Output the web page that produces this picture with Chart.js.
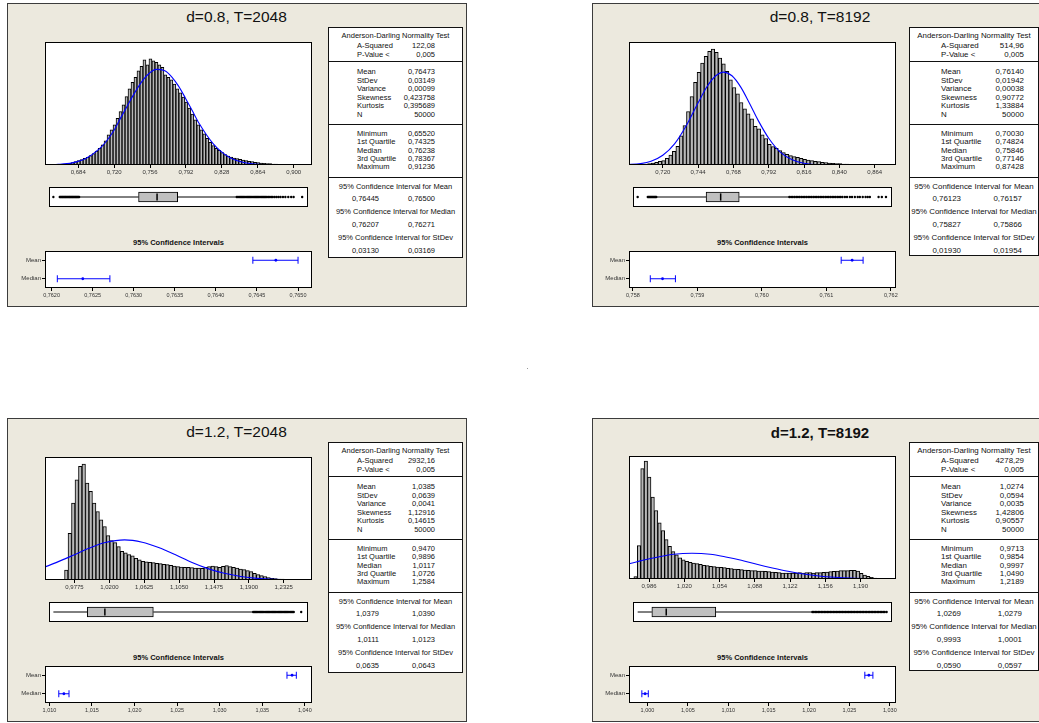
<!DOCTYPE html>
<html><head><meta charset="utf-8">
<script src="https://cdn.jsdelivr.net/npm/chart.js@4.4.1/dist/chart.umd.min.js"></script>
<style>
html,body{margin:0;padding:0;background:#fff;}
body{width:1039px;height:723px;position:relative;overflow:hidden;font-family:'Liberation Sans',Arial,sans-serif;}
.panel{position:absolute;background:#ECE9DE;border:1px solid #3c3c3c;box-sizing:border-box;}
.title{position:absolute;font-size:15.5px;color:#111;white-space:nowrap;transform:translate(-50%,-50%);}
.ctitle{position:absolute;font-size:7.5px;font-weight:bold;color:#111;white-space:nowrap;transform:translate(-50%,-50%);}
.stats{position:absolute;background:#fff;border:1px solid #111;box-sizing:border-box;font-size:7.5px;color:#111;}
.stats div{position:absolute;height:10px;line-height:10px;white-space:nowrap;}
.stats div.sep{height:0;border-top:1px solid #111;left:0;right:0;}
canvas{position:absolute;}
</style></head><body>
<script>
// ---------------- DATA ----------------
const titles = ['d=0.8, T=2048','d=0.8, T=8192','d=1.2, T=2048','d=1.2, T=8192'];
const ciTitle = '95% Confidence Intervals';
const ciRows = ['Mean','Median'];

// histogram bin centres and heights (relative counts)
const binsP1 = [0.6574,0.6604,0.6634,0.6664,0.6694,0.6724,0.6754,0.6784,0.6814,0.6844,0.6874,0.6904,0.6934,0.6964,0.6994,0.7024,0.7054,0.7084,0.7114,0.7144,0.7174,0.7204,0.7234,0.7264,0.7294,0.7324,0.7354,0.7384,0.7414,0.7444,0.7474,0.7504,0.7534,0.7564,0.7594,0.7624,0.7654,0.7684,0.7714,0.7744,0.7774,0.7804,0.7834,0.7864,0.7894,0.7924,0.7954,0.7984,0.8014,0.8044,0.8074,0.8104,0.8134,0.8164,0.8194,0.8224,0.8254,0.8284,0.8314,0.8344,0.8374,0.8404,0.8434,0.8464,0.8494,0.8524,0.8554,0.8584,0.8614,0.8644,0.8674,0.8704,0.8734,0.8764,0.8794,0.8824,0.8854,0.8884,0.8914,0.8944,0.8974,0.9004,0.9034,0.9064,0.9094,0.9124,0.9154];
const countsP1 = [0,0.5,1,1,2,3,5,7,10,13,16,20,23,28,34,42,50,60,72,90,105,120,140,160,180,205,228,247,262,282,295,315,300,318,312,307,300,292,270,262,255,242,228,216,203,188,170,152,135,120,105,93,80,68,58,50,44,37,31,27,24,21,19,17,15,13,11,10,8,7,6,5,4,4,3,3,2,2,2,1,1,1,1,1,0.5,0.5,0.5];
const binsP2 = [0.7013,0.7037,0.7061,0.7085,0.7109,0.7133,0.7157,0.7181,0.7205,0.7229,0.7253,0.7277,0.7301,0.7325,0.7349,0.7373,0.7397,0.7421,0.7445,0.7469,0.7493,0.7517,0.7541,0.7565,0.7589,0.7613,0.7637,0.7661,0.7685,0.7709,0.7733,0.7757,0.7781,0.7805,0.7829,0.7853,0.7877,0.7901,0.7925,0.7949,0.7973,0.7997,0.8021,0.8045,0.8069,0.8093,0.8117,0.8141,0.8165,0.8189,0.8213,0.8237,0.8261,0.8285,0.8309,0.8333,0.8357,0.8381,0.8405,0.8429,0.8453,0.8477,0.8501,0.8525,0.8549,0.8573,0.8597,0.8621,0.8645,0.8669,0.8693,0.8717,0.8741];
const countsP2 = [0.5,1,2,3,4,6,8,11,13,20,30,41,56,87,118,160,205,247,277,305,325,340,347,337,320,303,280,255,232,213,187,168,153,138,116,108,90,79,62,55,50,43,37,32,28,25,23,20,17,15,13,11,10,8,7,6,5,4,4,3,3,2,2,2,1.5,1,1,1,1,1,0.5,0.5,0.5];
const binsP3 = [0.94620,0.95045,0.95470,0.95895,0.96320,0.96745,0.97170,0.97595,0.98020,0.98445,0.98870,0.99295,0.99720,1.00145,1.00570,1.00995,1.01420,1.01845,1.02270,1.02695,1.03120,1.03545,1.03970,1.04395,1.04820,1.05245,1.05670,1.06095,1.06520,1.06945,1.07370,1.07795,1.08220,1.08645,1.09070,1.09495,1.09920,1.10345,1.10770,1.11195,1.11620,1.12045,1.12470,1.12895,1.13320,1.13745,1.14170,1.14595,1.15020,1.15445,1.15870,1.16295,1.16720,1.17145,1.17570,1.17995,1.18420,1.18845,1.19270,1.19695,1.20120,1.20545,1.20970,1.21395,1.21820,1.22245,1.22670,1.23095,1.23520,1.23945,1.24370,1.24795,1.25220,1.25645];
const countsP3 = [1,1,1,1,2,30,140,230,300,340,347,290,265,230,205,180,160,133,118,112,100,86,81,76,72,65,60,56,54,53,52,50,49,47,46,44,42,40,39,38,38,37,36,36,35,38,40,42,40,38,41,43,40,38,36,33,31,28,25,20,16,13,10,7,5,4,3,3,2,2,1,1,1,1];
const binsP4 = [0.9730,0.9763,0.9796,0.9829,0.9862,0.9895,0.9928,0.9961,0.9994,1.0027,1.0060,1.0093,1.0126,1.0159,1.0192,1.0225,1.0258,1.0291,1.0324,1.0357,1.0390,1.0423,1.0456,1.0489,1.0522,1.0555,1.0588,1.0621,1.0654,1.0687,1.0720,1.0753,1.0786,1.0819,1.0852,1.0885,1.0918,1.0951,1.0984,1.1017,1.1050,1.1083,1.1116,1.1149,1.1182,1.1215,1.1248,1.1281,1.1314,1.1347,1.1380,1.1413,1.1446,1.1479,1.1512,1.1545,1.1578,1.1611,1.1644,1.1677,1.1710,1.1743,1.1776,1.1809,1.1842,1.1875,1.1908,1.1941,1.1974,1.2007,1.2040,1.2073,1.2106,1.2139,1.2172];
const countsP4 = [7,100,330,353,305,245,205,168,145,118,98,82,72,63,57,53,50,48,46,44,41,40,38,37,36,35,34,32,31,30,29,28,27,26,25,25,24,24,23,22,21,20,19,18,18,18,18,18,19,18,19,19,18,19,19,20,21,22,23,24,25,25,25,26,26,24,17,12,8,5,3,2,1,0.5,0.5];

// fitted normal curve
const curveXP1 = [0.6451,0.6640,0.6778,0.6916,0.7054,0.7122,0.7191,0.7260,0.7329,0.7398,0.7467,0.7536,0.7622,0.7708,0.7777,0.7846,0.7915,0.7984,0.8053,0.8122,0.8190,0.8259,0.8363,0.8500,0.8673,0.8845,0.9207];
const curveYP1 = [0.2,1.8,6.3,19.5,49,71,100,138,175,212,245,270,286,282,264,236,200,162,124,92,65,44,22,7.3,1.4,0.2,0];
const curveXP2 = [0.6950,0.7050,0.7120,0.7200,0.7280,0.7360,0.7440,0.7500,0.7560,0.7614,0.7670,0.7730,0.7790,0.7850,0.7920,0.8000,0.8080,0.8160,0.8260,0.8400,0.8800];
const curveYP2 = [1,4,11,29,63,118,186,234,267,278,267,233,184,132,80,38,16,5.3,1,0.2,0];
const curveXP3 = [0.9347,0.9550,0.9750,0.9950,1.0150,1.0385,1.0600,1.0800,1.1000,1.1200,1.1400,1.1600,1.1800,1.2000,1.2200,1.2400,1.2700];
const curveYP3 = [33,52,73,95,112,120,113,97,76,53,34,20,10.7,4.9,2.1,0.8,0.2];
const curveXP4 = [0.9600,0.9800,0.9950,1.0100,1.0274,1.0450,1.0600,1.0750,1.0900,1.1050,1.1200,1.1350,1.1500,1.1650,1.1800,1.2000,1.2300];
const curveYP4 = [40,56,66,74,77,74,66,56,44,33,23,15,9.2,5.3,2.7,1.1,0.2];

// histogram axis ticks
const histTicksP1 = [0.684,0.720,0.756,0.792,0.828,0.864,0.900];
const histLabelsP1 = ['0,684','0,720','0,756','0,792','0,828','0,864','0,900'];
const histTicksP2 = [0.720,0.744,0.768,0.792,0.816,0.840,0.864];
const histLabelsP2 = ['0,720','0,744','0,768','0,792','0,816','0,840','0,864'];
const histTicksP3 = [0.9775,1.0200,1.0625,1.1050,1.1475,1.1900,1.2325];
const histLabelsP3 = ['0,9775','1,0200','1,0625','1,1050','1,1475','1,1900','1,2325'];
const histTicksP4 = [0.986,1.020,1.054,1.088,1.122,1.156,1.190];
const histLabelsP4 = ['0,986','1,020','1,054','1,088','1,122','1,156','1,190'];

// box plots: [min, Q1, median, Q3, max], whisker ends, outliers
const boxP1 = [0.6552,0.74325,0.76238,0.78367,0.91236];
const whiskP1 = [0.6826,0.8443];
const outP1 = [0.6552,0.6618,0.6626,0.6634,0.6642,0.6650,0.6658,0.6666,0.6674,0.6682,0.6690,0.6698,0.6706,0.6714,0.6722,0.6730,0.6738,0.6746,0.6754,0.6762,0.6770,0.6778,0.6786,0.6794,0.6802,0.6810,0.6818,0.8448,0.8460,0.8472,0.8484,0.8496,0.8508,0.8520,0.8532,0.8544,0.8556,0.8568,0.8580,0.8592,0.8604,0.8616,0.8628,0.8640,0.8652,0.8664,0.8676,0.8688,0.8700,0.8712,0.8724,0.8736,0.8748,0.8760,0.8775,0.8790,0.8805,0.8820,0.8840,0.8860,0.8880,0.8900,0.8925,0.8950,0.8980,0.9010,0.9035,0.91236];
const boxP2 = [0.7003,0.74824,0.75846,0.77146,0.87428];
const whiskP2 = [0.7134,0.8063];
const outP2 = [0.7003,0.7074,0.7080,0.7086,0.7092,0.7098,0.7104,0.7110,0.7116,0.7122,0.7128,0.7133,0.8066,0.8078,0.8090,0.8102,0.8114,0.8126,0.8138,0.8150,0.8162,0.8174,0.8186,0.8198,0.8210,0.8222,0.8234,0.8246,0.8258,0.8270,0.8282,0.8294,0.8306,0.8318,0.8330,0.8342,0.8354,0.8366,0.8378,0.8390,0.8402,0.8414,0.8426,0.8438,0.8455,0.8470,0.8490,0.8505,0.8525,0.8545,0.8560,0.8580,0.8600,0.8615,0.8630,0.8691,0.8714,0.87428];
const boxP3 = [0.9470,0.9896,1.0117,1.0726,1.2584];
const whiskP3 = [0.9470,1.1971];
const outP3 = [1.1980,1.1995,1.2010,1.2025,1.2040,1.2055,1.2070,1.2085,1.2100,1.2115,1.2130,1.2145,1.2160,1.2175,1.2190,1.2205,1.2220,1.2235,1.2250,1.2265,1.2280,1.2295,1.2310,1.2325,1.2340,1.2355,1.2370,1.2385,1.2400,1.2415,1.2430,1.2445,1.2460,1.2475,1.2490,1.2584];
const boxP4 = [0.9713,0.9854,0.9997,1.0490,1.2189];
const whiskP4 = [0.9713,1.1444];
const outP4 = [1.1450,1.1465,1.1480,1.1495,1.1510,1.1525,1.1540,1.1555,1.1570,1.1585,1.1600,1.1615,1.1630,1.1645,1.1660,1.1675,1.1690,1.1705,1.1720,1.1735,1.1750,1.1765,1.1780,1.1795,1.1810,1.1825,1.1840,1.1855,1.1870,1.1885,1.1900,1.1915,1.1930,1.1945,1.1960,1.1975,1.1990,1.2005,1.2020,1.2035,1.2050,1.2065,1.2080,1.2095,1.2110,1.2125,1.2140,1.2155,1.2170,1.2189];

// 95% confidence intervals: [low, estimate, high]
const ciMeanP1 = [0.76445,0.76473,0.76500], ciMedP1 = [0.76207,0.76238,0.76271];
const ciMeanP2 = [0.76123,0.76140,0.76157], ciMedP2 = [0.75827,0.75846,0.75866];
const ciMeanP3 = [1.0379,1.0385,1.0390], ciMedP3 = [1.0111,1.0117,1.0123];
const ciMeanP4 = [1.0269,1.0274,1.0279], ciMedP4 = [0.9993,0.9997,1.0001];
const ciTicksP1 = [0.7620,0.7625,0.7630,0.7635,0.7640,0.7645,0.7650];
const ciLabelsP1 = ['0,7620','0,7625','0,7630','0,7635','0,7640','0,7645','0,7650'];
const ciTicksP2 = [0.758,0.759,0.760,0.761,0.762];
const ciLabelsP2 = ['0,758','0,759','0,760','0,761','0,762'];
const ciTicksP3 = [1.010,1.015,1.020,1.025,1.030,1.035,1.040];
const ciLabelsP3 = ['1,010','1,015','1,020','1,025','1,030','1,035','1,040'];
const ciTicksP4 = [1.000,1.005,1.010,1.015,1.020,1.025,1.030];
const ciLabelsP4 = ['1,000','1,005','1,010','1,015','1,020','1,025','1,030'];

// summary tables
const statHead = 'Anderson-Darling Normality Test';
const statLabelsA = ['A-Squared','P-Value <'];
const statLabelsB = ['Mean','StDev','Variance','Skewness','Kurtosis','N'];
const statLabelsC = ['Minimum','1st Quartile','Median','3rd Quartile','Maximum'];
const ciHeads = ['95% Confidence Interval for Mean','95% Confidence Interval for Median','95% Confidence Interval for StDev'];
const statsAP1 = ['122,08','0,005'];
const statsBP1 = ['0,76473','0,03149','0,00099','0,423758','0,395689','50000'];
const statsCP1 = ['0,65520','0,74325','0,76238','0,78367','0,91236'];
const statsCIP1 = [['0,76445','0,76500'],['0,76207','0,76271'],['0,03130','0,03169']];
const statsAP2 = ['514,96','0,005'];
const statsBP2 = ['0,76140','0,01942','0,00038','0,90772','1,33884','50000'];
const statsCP2 = ['0,70030','0,74824','0,75846','0,77146','0,87428'];
const statsCIP2 = [['0,76123','0,76157'],['0,75827','0,75866'],['0,01930','0,01954']];
const statsAP3 = ['2932,16','0,005'];
const statsBP3 = ['1,0385','0,0639','0,0041','1,12916','0,14615','50000'];
const statsCP3 = ['0,9470','0,9896','1,0117','1,0726','1,2584'];
const statsCIP3 = [['1,0379','1,0390'],['1,0111','1,0123'],['0,0635','0,0643']];
const statsAP4 = ['4278,29','0,005'];
const statsBP4 = ['1,0274','0,0594','0,0035','1,42806','0,90557','50000'];
const statsCP4 = ['0,9713','0,9854','0,9997','1,0490','1,2189'];
const statsCIP4 = [['1,0269','1,0279'],['0,9993','1,0001'],['0,0590','0,0597']];

// ---------------- LAYOUT / DRAWING ----------------
const FONT = "'Liberation Sans', Arial, sans-serif";
Chart.defaults.font.family = FONT;
const body = document.body;

function el(cls, css, text){
  const d = document.createElement('div');
  if (cls) d.className = cls;
  Object.assign(d.style, css);
  if (text !== undefined) d.textContent = text;
  return d;
}
function mk(left, top, w, h){
  const c = document.createElement('canvas');
  c.width = w; c.height = h;
  c.style.left = left + 'px'; c.style.top = top + 'px';
  c.style.width = w + 'px'; c.style.height = h + 'px';
  body.appendChild(c);
  return c;
}
const framePlugin = {
  id: 'frame',
  beforeDraw(c){ const a=c.chartArea, x=c.ctx; x.save(); x.fillStyle='#fff'; x.fillRect(a.left,a.top,a.right-a.left,a.bottom-a.top); x.restore(); },
  afterDraw(c){ const a=c.chartArea, x=c.ctx; x.save(); x.strokeStyle='#000'; x.lineWidth=1; x.strokeRect(a.left+0.5,a.top+0.5,a.right-a.left-1,a.bottom-a.top-1); x.restore(); }
};
const baseOpts = { responsive:false, animation:false, devicePixelRatio:1, events:[],
  plugins:{ legend:{display:false}, tooltip:{enabled:false} } };

function xAxis(range, ticks, labels, size, axH){
  return { type:'linear', min:range[0], max:range[1], offset:false,
    afterBuildTicks: a => { a.ticks = ticks.map(v => ({value:v})); },
    afterFit: s => { s.height = axH; },
    ticks:{ autoSkip:false, maxRotation:0, minRotation:0, font:{size:size, family:FONT}, color:'#333', padding:1,
      callback:(v,i) => labels[i] },
    grid:{ display:true, drawOnChartArea:false, drawTicks:true, tickLength:3, color:'#000', offset:false },
    border:{ display:false } };
}

function histChart(f, range, bins, counts, cx, cy, ticks, labels){
  const padL=24, padR=24, padT=2, axH=14;
  const cv = mk(f.l-padL, f.t-padT, f.r-f.l+padL+padR, f.b-f.t+padT+axH);
  new Chart(cv, { type:'bar',
    data:{ datasets:[
      { type:'line', data: cx.map((x,i)=>({x, y:cy[i]})), borderColor:'#0000ff', borderWidth:1.1, pointRadius:0, cubicInterpolationMode:'monotone', order:0 },
      { type:'bar', data: bins.map((x,i)=>({x, y:counts[i]})), backgroundColor:'#b8b8b8', borderColor:'#000',
        borderWidth:{top:1,left:1,right:1,bottom:0}, borderSkipped:false, barPercentage:1, categoryPercentage:1, order:1 }
    ]},
    options: Object.assign({}, baseOpts, {
      layout:{ padding:{left:padL, right:padR, top:padT, bottom:0} },
      scales:{ x: xAxis(range, ticks, labels, 6, axH), y:{ display:false, min:0, max:368 } }
    }),
    plugins:[framePlugin]
  });
}

function boxChart(f, range, box, whisk, outl){
  const cv = mk(f.l, f.t, f.r-f.l, f.b-f.t);
  new Chart(cv, { type:'scatter',
    data:{ datasets:[
      { type:'scatter', data: outl.map(x=>({x, y:1})), pointRadius:1.2, backgroundColor:'#000', borderWidth:0, order:0 },
      { type:'line', data:[{x:box[2],y:0.64},{x:box[2],y:1.36}], borderColor:'#000', borderWidth:1.5, pointRadius:0, order:1 },
      { type:'line', data:[{x:whisk[0],y:1},{x:box[1],y:1}], borderColor:'#000', borderWidth:1, pointRadius:0, order:2 },
      { type:'line', data:[{x:box[3],y:1},{x:whisk[1],y:1}], borderColor:'#000', borderWidth:1, pointRadius:0, order:2 },
      { type:'bar', indexAxis:'y', data:[{x:[box[1],box[3]], y:1}], backgroundColor:'#c0c0c0', borderColor:'#000', borderWidth:1, borderSkipped:false, barThickness:10, order:3 }
    ]},
    options: Object.assign({}, baseOpts, {
      layout:{ padding:0 },
      scales:{ x:{ type:'linear', min:range[0], max:range[1], display:false, offset:false },
               y:{ type:'linear', min:0, max:2, display:false, offset:false } }
    }),
    plugins:[framePlugin]
  });
}

function ciChart(f, range, ticks, labels, ciMean, ciMed){
  const padL=45, padR=14, padT=2, axH=14, blue='#0000ff';
  const cv = mk(f.l-padL, f.t-padT, f.r-f.l+padL+padR, f.b-f.t+padT+axH);
  const bar = (c,y) => ({ type:'line', data:[{x:c[0],y},{x:c[2],y}], borderColor:blue, borderWidth:1,
      pointStyle:'line', pointRotation:90, pointRadius:3.5, pointBorderColor:blue, pointBorderWidth:1, order:1 });
  const dot = (c,y) => ({ type:'scatter', data:[{x:c[1],y}], pointRadius:1.4, backgroundColor:blue, borderColor:blue, borderWidth:0, order:0 });
  new Chart(cv, { type:'scatter',
    data:{ datasets:[ dot(ciMean,3), dot(ciMed,1), bar(ciMean,3), bar(ciMed,1) ] },
    options: Object.assign({}, baseOpts, {
      layout:{ padding:{left:0, right:padR, top:padT, bottom:0} },
      scales:{
        x: xAxis(range, ticks, labels, 5.5, axH),
        y:{ type:'linear', min:0, max:4, position:'left',
            afterBuildTicks: a => { a.ticks = [{value:3},{value:1}]; },
            afterFit: s => { s.width = padL; },
            ticks:{ autoSkip:false, font:{size:6, family:FONT}, color:'#333', padding:1,
                    callback: v => v === 3 ? ciRows[0] : ciRows[1] },
            grid:{ display:true, drawOnChartArea:false, tickLength:3, color:'#000' },
            border:{ display:false } }
      }
    }),
    plugins:[framePlugin]
  });
}

const ROWS = { head:8, a:[18,27], sep1:34, b:[44,52.6,61.2,69.8,78.4,87], sep2:97,
  c:[106,114.3,122.6,130.9,139.2], sep3:150, ciH:[158.5,184,210], ciV:[171,197,223] };

function statsBox(g, A, B, C, CI){
  const box = el('stats', {left:g.l+'px', top:g.t+'px', width:g.w+'px', height:g.h+'px', fontSize:g.fs+'px'});
  const row = (y, txt, css) => box.appendChild(el(null, Object.assign({top:(y-5)+'px'}, css), txt));
  const centre = {left:'0px', right:'0px', textAlign:'center'};
  const lab = {left:(g.labL-g.l-1)+'px'};
  const val = {right:(g.l+g.w-g.valR-1)+'px', textAlign:'right'};
  row(ROWS.head, statHead, centre);
  statLabelsA.forEach((s,i)=>{ row(ROWS.a[i], s, lab); row(ROWS.a[i], A[i], val); });
  statLabelsB.forEach((s,i)=>{ row(ROWS.b[i], s, lab); row(ROWS.b[i], B[i], val); });
  statLabelsC.forEach((s,i)=>{ row(ROWS.c[i], s, lab); row(ROWS.c[i], C[i], val); });
  [ROWS.sep1, ROWS.sep2, ROWS.sep3].forEach(y => box.appendChild(el('sep', {top:(y-1)+'px'})));
  ciHeads.forEach((s,i)=>{
    row(ROWS.ciH[i], s, centre);
    row(ROWS.ciV[i], CI[i][0], {right:(g.l+g.w-g.ci1R-1)+'px', textAlign:'right'});
    row(ROWS.ciV[i], CI[i][1], {right:(g.l+g.w-g.ci2R-1)+'px', textAlign:'right'});
  });
  body.appendChild(box);
}

const panels = [
  { p:{l:7,t:3,w:460,h:304}, tx:236.5, ty:17, bold:false,
    hist:{l:45,t:42,r:312,b:165}, box:{l:45,t:183,r:312,b:211}, ci:{l:45,t:248,r:312,b:288}, cty:242,
    range:[0.65068,0.91839], ciRange:[0.76192,0.76517],
    bins:binsP1, counts:countsP1, cx:curveXP1, cy:curveYP1, ht:histTicksP1, hl:histLabelsP1,
    bx:boxP1, wh:whiskP1, out:outP1, ct:ciTicksP1, cl:ciLabelsP1, cm:ciMeanP1, cd:ciMedP1,
    st:{l:328,t:27,w:135,h:231,labL:357,valR:435,ci1R:379,ci2R:435,fs:7.5}, A:statsAP1, B:statsBP1, C:statsCP1, CI:statsCIP1 },
  { p:{l:592,t:3,w:470,h:304}, tx:820, ty:17, bold:false,
    hist:{l:629,t:42,r:896,b:165}, box:{l:629,t:183,r:896,b:211}, ci:{l:629,t:248,r:896,b:288}, cty:242,
    range:[0.69703,0.87851], ciRange:[0.75794,0.76208],
    bins:binsP2, counts:countsP2, cx:curveXP2, cy:curveYP2, ht:histTicksP2, hl:histLabelsP2,
    bx:boxP2, wh:whiskP2, out:outP2, ct:ciTicksP2, cl:ciLabelsP2, cm:ciMeanP2, cd:ciMedP2,
    st:{l:909,t:27,w:130,h:229,labL:941,valR:1024,ci1R:961,ci2R:1022,fs:7.9}, A:statsAP2, B:statsBP2, C:statsCP2, CI:statsCIP2 },
  { p:{l:7,t:418,w:460,h:304}, tx:236.5, ty:432, bold:false,
    hist:{l:45,t:457,r:312,b:580}, box:{l:45,t:598,r:312,b:626}, ci:{l:45,t:663,r:312,b:703}, cty:657,
    range:[0.94150,1.26694], ciRange:[1.00948,1.04084],
    bins:binsP3, counts:countsP3, cx:curveXP3, cy:curveYP3, ht:histTicksP3, hl:histLabelsP3,
    bx:boxP3, wh:whiskP3, out:outP3, ct:ciTicksP3, cl:ciLabelsP3, cm:ciMeanP3, cd:ciMedP3,
    st:{l:328,t:442,w:135,h:231,labL:357,valR:435,ci1R:379,ci2R:435,fs:7.5}, A:statsAP3, B:statsBP3, C:statsCP3, CI:statsCIP3 },
  { p:{l:592,t:418,w:470,h:304}, tx:820, ty:432, bold:true,
    hist:{l:629,t:456,r:896,b:579}, box:{l:629,t:598,r:896,b:626}, ci:{l:629,t:663,r:896,b:703}, cty:657,
    range:[0.96665,1.22423], ciRange:[0.99771,1.03076],
    bins:binsP4, counts:countsP4, cx:curveXP4, cy:curveYP4, ht:histTicksP4, hl:histLabelsP4,
    bx:boxP4, wh:whiskP4, out:outP4, ct:ciTicksP4, cl:ciLabelsP4, cm:ciMeanP4, cd:ciMedP4,
    st:{l:909,t:442,w:130,h:229,labL:941,valR:1024,ci1R:961,ci2R:1022,fs:7.9}, A:statsAP4, B:statsBP4, C:statsCP4, CI:statsCIP4 }
];

panels.forEach((P, k) => {
  body.appendChild(el('panel', {left:P.p.l+'px', top:P.p.t+'px', width:P.p.w+'px', height:P.p.h+'px'}));
  const t = el('title', {left:P.tx+'px', top:P.ty+'px'}, titles[k]);
  if (P.bold) { t.style.fontWeight = 'bold'; t.style.fontSize = '15px'; }
  body.appendChild(t);
  body.appendChild(el('ctitle', {left:((P.ci.l+P.ci.r)/2)+'px', top:P.cty+'px'}, ciTitle));
  statsBox(P.st, P.A, P.B, P.C, P.CI);
  histChart(P.hist, P.range, P.bins, P.counts, P.cx, P.cy, P.ht, P.hl);
  boxChart(P.box, P.range, P.bx, P.wh, P.out);
  ciChart(P.ci, P.ciRange, P.ct, P.cl, P.cm, P.cd);
});
body.appendChild(el(null, {position:'absolute', left:'527px', top:'368px', width:'1px', height:'1px', background:'#999'}));
</script>
</body></html>
